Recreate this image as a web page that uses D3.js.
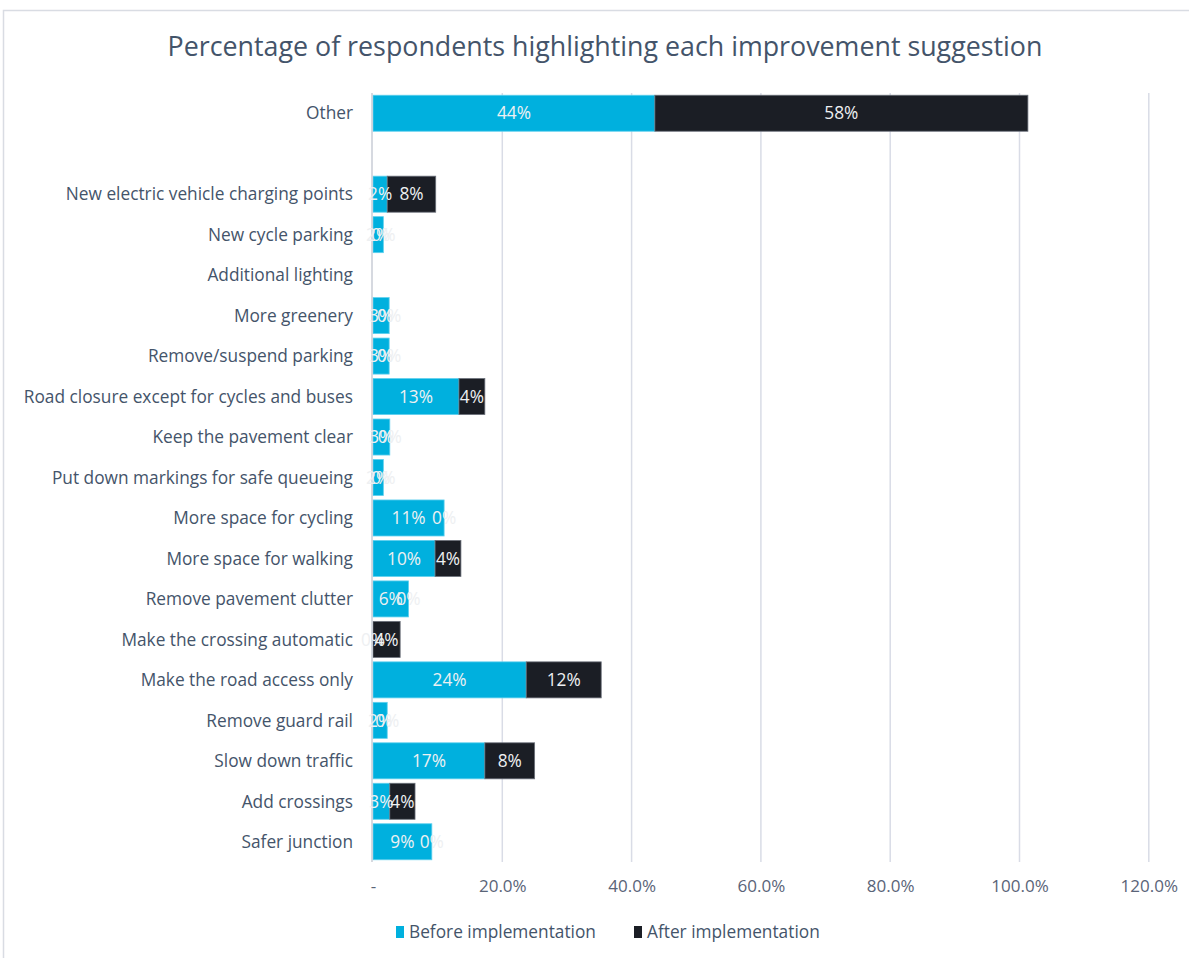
<!DOCTYPE html>
<html>
<head>
<meta charset="utf-8">
<script src="https://cdn.jsdelivr.net/npm/d3@7"></script>
<style>
  html, body { margin: 0; padding: 0; background: #fff; }
  svg { display: block; font-family: "Open Sans", sans-serif; }
</style>
</head>
<body>
<svg id="chart" width="1189" height="958"></svg>
<script>
// Improvement suggestions, top to bottom ("" is an empty spacer row)
const categories = [
  "Other",
  "",
  "New electric vehicle charging points",
  "New cycle parking",
  "Additional lighting",
  "More greenery",
  "Remove/suspend parking",
  "Road closure except for cycles and buses",
  "Keep the pavement clear",
  "Put down markings for safe queueing",
  "More space for cycling",
  "More space for walking",
  "Remove pavement clutter",
  "Make the crossing automatic",
  "Make the road access only",
  "Remove guard rail",
  "Slow down traffic",
  "Add crossings",
  "Safer junction"
];
// Share of respondents (%), null where no answer was recorded
const beforeValues = [43.6, null, 2.2, 1.6, null, 2.5, 2.5, 13.3, 2.6, 1.6, 11.0, 9.6, 5.5, 0.0, 23.7, 2.2, 17.3, 2.6, 9.1];
const afterValues  = [57.7, null, 7.5, 0.0, null, 0.0, 0.0, 4.0, 0.0, 0.0, 0.0, 4.0, 0.0, 4.2, 11.6, 0.0, 7.7, 3.9, 0.0];
const xTicks = [0, 20, 40, 60, 80, 100, 120];
const seriesNames = ["Before implementation", "After implementation"];

const colors = ["#00b0de", "#1b1e25"];
const textColor = "#44546a";
const labelSize = 17.3;

const svg = d3.select("#chart");
const margin = { left: 373, right: 40, top: 93, bottom: 96 };
const W = 1189, H = 958;

// Chart frame
svg.append("rect")
  .attr("x", 3.5).attr("y", 10.5)
  .attr("width", 1300).attr("height", 1000)
  .attr("fill", "none").attr("stroke", "#d9dce3").attr("stroke-width", 1.5);

const x = d3.scaleLinear().domain([0, 120]).range([margin.left, 1148.8]);
const y = d3.scaleBand().domain(d3.range(categories.length))
  .range([margin.top, H - margin.bottom]).paddingInner(0.11).paddingOuter(0.055);

// Title
svg.append("text")
  .attr("x", 605).attr("y", 56)
  .attr("text-anchor", "middle")
  .attr("font-size", 26.8)
  .attr("fill", textColor)
  .text("Percentage of respondents highlighting each improvement suggestion");

// Vertical gridlines
svg.append("g")
  .selectAll("line")
  .data(xTicks.filter(t => t > 0))
  .join("line")
  .attr("x1", d => x(d)).attr("x2", d => x(d))
  .attr("y1", margin.top).attr("y2", H - margin.bottom)
  .attr("stroke", "#d9dce6").attr("stroke-width", 1.5);

// X axis labels
const xAxis = d3.axisBottom(x)
  .tickValues(xTicks)
  .tickSize(0)
  .tickPadding(0)
  .tickFormat(d => d === 0 ? "-" : d3.format(".1f")(d) + "%");
const gx = svg.append("g")
  .attr("transform", `translate(0, ${H - margin.bottom + 18})`)
  .call(xAxis);
gx.select(".domain").remove();
gx.selectAll("text")
  .attr("font-size", 17)
  .attr("fill", "#5a6478")
  .attr("font-family", "Open Sans, sans-serif");

// Stacked segments
const rows = categories.map((c, i) => ({ i, before: beforeValues[i], after: afterValues[i] }));
const segs = [];
rows.forEach(r => {
  if (r.before === null) return;
  segs.push({ i: r.i, s: 0, x0: 0, x1: r.before, v: r.before });
  segs.push({ i: r.i, s: 1, x0: r.before, x1: r.before + r.after, v: r.after });
});

svg.append("g")
  .selectAll("rect")
  .data(segs.filter(d => d.v > 0))
  .join("rect")
  .attr("x", d => x(d.x0))
  .attr("y", d => y(d.i))
  .attr("width", d => x(d.x1) - x(d.x0))
  .attr("height", y.bandwidth())
  .attr("fill", d => colors[d.s])
  .attr("stroke", d => d.s === 0 ? "#5fd0ee" : "#6b707a")
  .attr("stroke-width", 0.8);

// Zero axis line
svg.append("line")
  .attr("x1", x(0) - 1).attr("x2", x(0) - 1)
  .attr("y1", margin.top).attr("y2", H - margin.bottom)
  .attr("stroke", "#c9ccd6").attr("stroke-width", 1.5);

// Segment value labels
svg.append("g")
  .selectAll("text")
  .data(segs)
  .join("text")
  .attr("x", d => x((d.x0 + d.x1) / 2))
  .attr("y", d => y(d.i) + y.bandwidth() / 2)
  .attr("dy", "0.36em")
  .attr("text-anchor", "middle")
  .attr("font-size", labelSize)
  .attr("fill", "#eef0f2")
  .text(d => d3.format(".0f")(d.v) + "%");

// Category labels
svg.append("g")
  .selectAll("text")
  .data(categories)
  .join("text")
  .attr("x", 353)
  .attr("y", (d, i) => y(i) + y.bandwidth() / 2)
  .attr("dy", "0.36em")
  .attr("text-anchor", "end")
  .attr("font-size", labelSize)
  .attr("fill", textColor)
  .text(d => d);

// Legend
const legend = svg.append("g").attr("transform", "translate(0, 932)");
const legendX = [396, 634];
seriesNames.forEach((name, k) => {
  legend.append("rect")
    .attr("x", legendX[k]).attr("y", -6)
    .attr("width", 8).attr("height", 12)
    .attr("fill", colors[k]);
  legend.append("text")
    .attr("x", legendX[k] + 13).attr("y", 0)
    .attr("dy", "0.36em")
    .attr("font-size", labelSize)
    .attr("fill", textColor)
    .text(name);
});
</script>
</body>
</html>
